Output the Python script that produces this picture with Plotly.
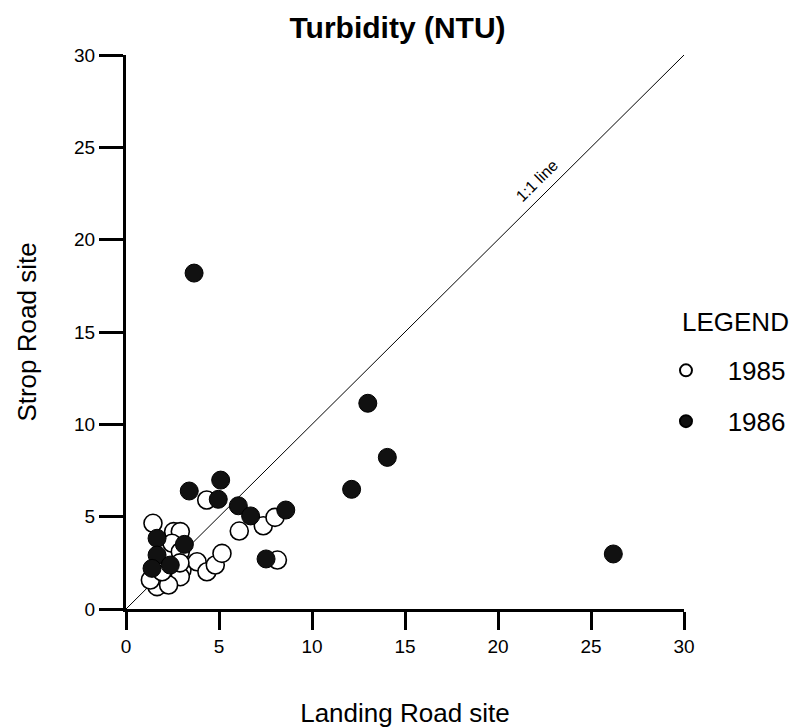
import plotly.graph_objects as go

# Turbidity (NTU) measured at the two sites
landing_1985 = [1.45, 2.56, 2.92, 2.47, 2.92, 3.01, 2.92, 1.67, 2.29, 1.31, 1.94,
                3.82, 4.35, 4.80, 5.16, 2.90, 4.34, 7.38, 8.01, 6.09, 8.14]
strop_1985 = [4.64, 4.19, 4.19, 3.56, 3.10, 2.11, 1.75, 1.21, 1.30, 1.57, 2.02,
              2.56, 2.02, 2.38, 3.01, 2.50, 5.90, 4.51, 4.96, 4.22, 2.65]

landing_1986 = [3.66, 13.0, 14.05, 12.13, 26.2, 5.09, 3.40, 4.96, 6.04, 6.70,
                8.59, 7.53, 1.67, 1.67, 1.40, 2.38, 3.14]
strop_1986 = [18.19, 11.14, 8.21, 6.48, 2.98, 6.98, 6.39, 5.94, 5.59, 5.04,
              5.36, 2.71, 3.83, 2.92, 2.20, 2.38, 3.50]

one_to_one = [0, 30]
axis_ticks = [0, 5, 10, 15, 20, 25, 30]

FONT = "Liberation Sans, Arial, Helvetica, sans-serif"

fig = go.Figure()

fig.add_trace(go.Scatter(
    x=one_to_one, y=one_to_one, mode="lines",
    line=dict(color="black", width=1), showlegend=False, hoverinfo="skip"))

fig.add_trace(go.Scatter(
    x=landing_1985, y=strop_1985, mode="markers", name="   1985",
    legendgroup="a",
    marker=dict(size=18, color="white", line=dict(color="black", width=1.6))))

fig.add_trace(go.Scatter(
    x=landing_1986, y=strop_1986, mode="markers", name="   1986",
    legendgroup="b",
    marker=dict(size=18, color="#111111", line=dict(color="black", width=1))))

axis_common = dict(
    range=[0, 30], tickvals=axis_ticks, ticks="outside", tickwidth=3,
    tickcolor="black", showline=True, linewidth=3, linecolor="black",
    showgrid=False, zeroline=False, automargin=False,
    tickfont=dict(family=FONT, size=19, color="black"),
)

fig.update_layout(
    width=808, height=728,
    margin=dict(l=126, r=124, t=55, b=119, autoexpand=False),
    paper_bgcolor="white", plot_bgcolor="white",
    font=dict(family=FONT, color="black"),
    title=dict(text="<b>Turbidity (NTU)</b>", x=0.492, xanchor="center",
               y=0.962, yanchor="middle",
               font=dict(family=FONT, size=30, color="black")),
    xaxis=dict(**axis_common, ticklen=18,
               title=dict(text="Landing Road site", standoff=54,
                          font=dict(family=FONT, size=26, color="black"))),
    yaxis=dict(**axis_common, ticklen=24,
               title=dict(text="Strop Road site", standoff=30,
                          font=dict(family=FONT, size=26, color="black"))),
    showlegend=True,
    legend=dict(x=0.9677, xanchor="left", y=0.473, yanchor="top",
                font=dict(family=FONT, size=26, color="black"),
                itemsizing="constant", tracegroupgap=14,
                bgcolor="rgba(0,0,0,0)"),
    annotations=[
        dict(x=22.1, y=23.2, xref="x", yref="y", text="1:1 line",
             showarrow=False, textangle=-44.8,
             font=dict(family=FONT, size=16, color="black"),
             xanchor="center", yanchor="middle"),
        dict(x=0.993, y=0.518, xref="paper", yref="paper", text="LEGEND",
             showarrow=False, xanchor="left", yanchor="middle",
             font=dict(family=FONT, size=26, color="black")),
    ],
)

fig.write_html("out.html")
